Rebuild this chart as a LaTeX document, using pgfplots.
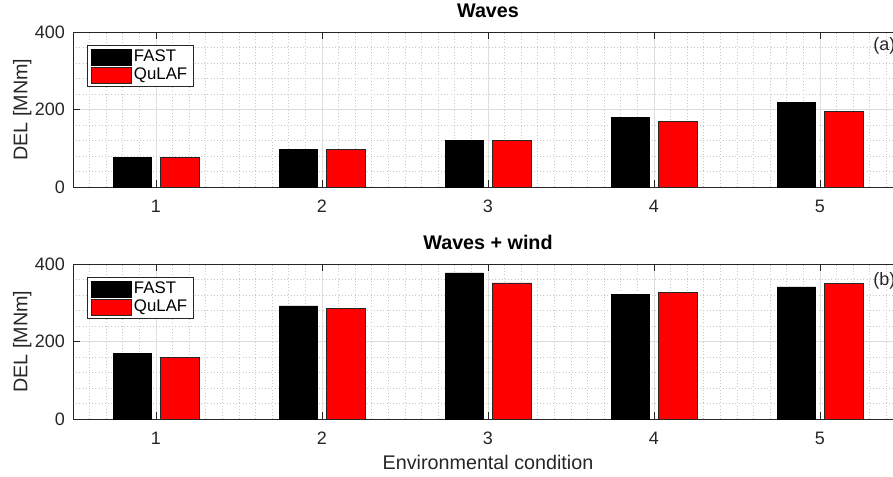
\documentclass[border=0pt]{standalone}
\usepackage{pgfplots}
\pgfplotsset{compat=1.18}
\usepackage{fontspec}
\setmainfont{Liberation Sans}
\definecolor{axgray}{RGB}{38,38,38}
\definecolor{matred}{RGB}{255,0,0}

\pgfplotsset{
  delaxis/.style={
    width=622.5pt, height=116.25pt, scale only axis,
    xmin=0.5, xmax=5.5, ymin=0, ymax=400,
    xtick={1,...,5}, ytick={0,200,400},
    minor xtick={0.5,0.6,...,5.5}, minor ytick={0,40,...,400},
    grid=both,
    major grid style={draw=black!13, line width=0.5pt},
    minor grid style={draw=black!22, dotted, line width=0.5pt},
    tick align=inside, major tick length=5.5pt, minor tick length=0pt,
    tick style={axgray, line width=0.5pt},
    axis line style={axgray, line width=0.5pt},
    /pgf/number format/assume math mode=true,
    ticklabel style={font=\fontsize{13.5}{15}\selectfont, text=axgray},
    xticklabel style={yshift=-6pt},
    yticklabel style={xshift=-2.5pt},
    ylabel={DEL [MNm]},
    ylabel style={font=\fontsize{14.8}{16}\selectfont, text=axgray,
      at={(axis description cs:-0.0612,0.5)}, anchor=center},
    title style={font=\bfseries\fontsize{14.8}{16}\selectfont, text=black,
      yshift=1.5pt},
    legend image code/.code={
      \draw[#1, line width=0.5pt] (0pt,-2pt) rectangle (30pt,10.5pt);},
    legend style={at={(axis description cs:0,1)}, anchor=north west,
      xshift=10.5pt, yshift=-9.75pt, draw=axgray, line width=0.5pt,
      inner xsep=3pt, inner ysep=2pt, row sep=0pt,
      font=\fontsize{12.6}{13}\selectfont, text=black,
      nodes={inner xsep=1.5pt, inner ysep=1.6pt},
      /tikz/every odd column/.append style={yshift=-4.5pt}},
    legend cell align=left,
  },
  fastbar/.style={ybar, bar width=0.232, bar shift=-0.143,
    fill=black, draw=black, line width=0.5pt},
  qulafbar/.style={ybar, bar width=0.232, bar shift=0.143,
    fill=matred, draw=black!85, line width=0.5pt},
}

\begin{document}
\begin{tikzpicture}
% (a) waves only
\begin{axis}[delaxis, name=top, at={(0,0)}, anchor=north west, title={Waves}]
\addplot[fastbar] coordinates {(1,76) (2,98) (3,121) (4,179) (5,219)};
\addplot[qulafbar] coordinates {(1,76) (2,98) (3,120) (4,170) (5,194)};
\legend{FAST, QuLAF}
\node[anchor=west, font=\fontsize{13.5}{15}\selectfont, text=axgray, inner sep=0pt]
  at (axis cs:5.32,364) {(a)};
\end{axis}

% (b) waves + wind
\begin{axis}[delaxis, name=bot, at={(0,-174pt)}, anchor=north west,
  title={Waves + wind},
  xlabel={Environmental condition},
  xlabel style={font=\fontsize{14.8}{16}\selectfont, text=axgray,
    at={(axis description cs:0.5,0)}, anchor=north, inner sep=0pt, yshift=-27pt}]
\addplot[fastbar] coordinates {(1,169) (2,292) (3,377) (4,321) (5,341)};
\addplot[qulafbar] coordinates {(1,159) (2,286) (3,351) (4,326) (5,350)};
\legend{FAST, QuLAF}
\node[anchor=west, font=\fontsize{13.5}{15}\selectfont, text=axgray, inner sep=0pt]
  at (axis cs:5.32,357) {(b)};
\end{axis}

\pgfresetboundingbox
\path[use as bounding box] (-54.75pt,24pt) rectangle (615pt,-333pt);
\end{tikzpicture}
\end{document}
